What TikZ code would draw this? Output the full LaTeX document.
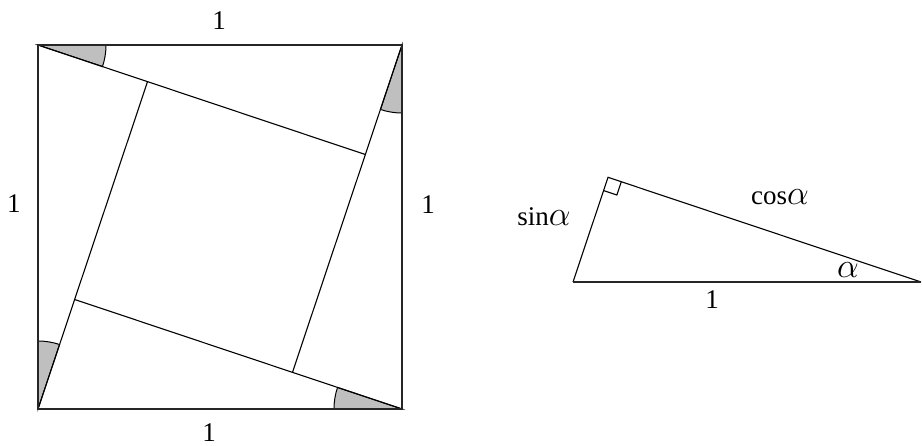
\documentclass[tikz,border=0pt]{standalone}
\usepackage{fontspec}
\setmainfont{Liberation Serif}
\usetikzlibrary{calc}
\newcommand{\bigal}{{\fontsize{17.5}{20}\selectfont$\alpha$}}
\begin{document}
\begin{tikzpicture}[x=0.5pt, y=0.5pt,
    wedge/.style={fill=gray!50, draw=black, line width=0.5pt},
    thin line/.style={black, line width=0.55pt},
    edge line/.style={black!85, line width=0.9pt},
    lbl/.style={font=\fontsize{13.5}{16}\selectfont, inner sep=0pt}]
    \useasboundingbox (0,0) rectangle (922,445);
    \def\ang{18.5}
    % Quadrato
    \coordinate (A) at (38,400);
    \coordinate (B) at (402,400);
    \coordinate (C) at (402,36);
    \coordinate (D) at (38,36);
    
    % Spicchi grigi (angoli alpha)
    \foreach \c/\t in {A/0, B/-90, C/180, D/90} {
        \filldraw[wedge] (\c) -- ++(\t-\ang:68) arc[start angle=\t-\ang, end angle=\t, radius=68] -- cycle;
    }
    
    % Segmenti interni
    \foreach \c/\t in {A/0, B/-90, C/180, D/90} {
        \draw[thin line] (\c) -- ++(\t-\ang:345.2);
    }
    \draw[edge line] (A) -- (B) -- (C) -- (D) -- cycle;
    
    \node[lbl] (lTop) at (219,424) {1};
    \node[lbl] (lLeft) at (14,241) {1};
    \node[lbl] (lRight) at (428,240) {1};
    \node[lbl] (lBottom) at (209,12) {1};
    
    % Triangolo rettangolo
    \coordinate (T1) at (573,163);
    \coordinate (T3) at (921,163);
    \path (T1) ++(90-\ang:110.4) coordinate (T2);
    \draw[thin line] (T1) -- (T2) -- (T3);
    \draw[edge line] (T1) -- (T3);
    \draw[thin line] (T2) ++(270-\ang:14) -- ++(-\ang:14) -- ++(90-\ang:14);
    
    \node[lbl] (lSin) at (544,228) {sin\bigal};
    \node[lbl] (lCos) at (780,248) {cos\bigal};
    \node[lbl] (lAlpha) at (848,175) {\bigal};
    \node[lbl] (lHyp) at (712,145) {1};
\end{tikzpicture}
\end{document}
